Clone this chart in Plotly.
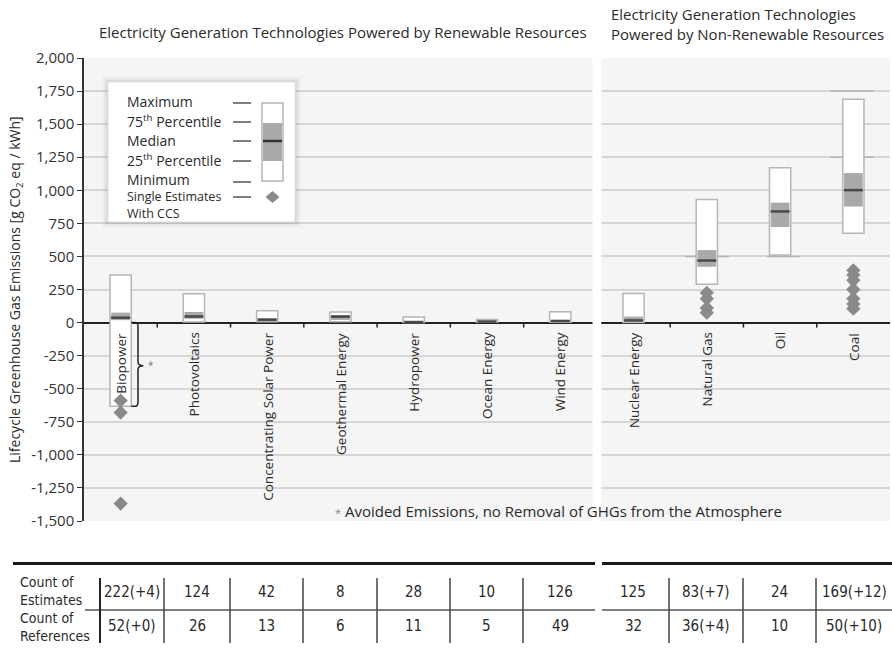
import plotly.graph_objects as go

# ---------------- data ----------------
categories = ["Biopower", "Photovoltaics", "Concentrating Solar Power", "Geothermal Energy",
              "Hydropower", "Ocean Energy", "Wind Energy", "Nuclear Energy", "Natural Gas",
              "Oil", "Coal"]
v_min = [-633, 5, 7, 6, 0, 2, 2, 1, 290, 510, 675]
v_q1 = [18, 29, 14, 20, 3, 6, 8, 8, 422, 722, 877]
v_med = [37, 46, 22, 45, 4, 8, 12, 16, 469, 840, 1001]
v_q3 = [75, 80, 32, 57, 7, 9, 20, 45, 548, 907, 1130]
v_max = [360, 217, 89, 79, 43, 23, 81, 220, 930, 1170, 1689]

ccs_category = [0, 0, 0, 8, 8, 8, 8, 10, 10, 10, 10, 10, 10, 10]
ccs_values = [-590, -680, -1368, 225, 180, 110, 75, 395, 360, 320, 250, 180, 140, 105]

count_estimates = ["222(+4)", "124", "42", "8", "28", "10", "126", "125", "83(+7)", "24", "169(+12)"]
count_references = ["52(+0)", "26", "13", "6", "11", "5", "49", "32", "36(+4)", "10", "50(+10)"]

y_ticks = list(range(-1500, 2001, 250))
y_ticktext = [f"{v:,}" for v in y_ticks]

# ---------------- layout helpers ----------------
W, H = 892, 649
ML, MR, MT, MB = 84, 2, 58, 128
PW, PH = W - ML - MR, H - MT - MB


def px(x):
    return (x - ML) / PW


def py(y):
    return (H - MB - y) / PH


FONT = "Open Sans, Noto Sans, sans-serif"
COND = "DejaVu Sans Condensed, Liberation Sans Narrow, Arial Narrow, sans-serif"
TXT = "#2a2a2a"

annotations = []


def ann(text, x, y, xref="paper", yref="paper", xanchor="center", yanchor="middle",
        size=13, family=FONT, color=TXT, **kw):
    annotations.append(dict(text=text, x=x, y=y, xref=xref, yref=yref, xanchor=xanchor,
                            yanchor=yanchor, showarrow=False,
                            font=dict(family=family, size=size, color=color), **kw))


idx = list(range(len(categories)))
fig = go.Figure()

# outer box min..max
fig.add_trace(go.Bar(
    x=idx, y=[b - a for a, b in zip(v_min, v_max)], base=v_min, width=0.29,
    marker=dict(color="white", line=dict(color="#b5b5b5", width=1.5)),
    hoverinfo="skip", showlegend=False))
# inter-quartile band
fig.add_trace(go.Bar(
    x=idx, y=[b - a for a, b in zip(v_q1, v_q3)], base=v_q1, width=0.255,
    marker=dict(color="#a9a9a9", line=dict(width=0)),
    hoverinfo="skip", showlegend=False))
# medians
mx, my = [], []
for i, m in zip(idx, v_med):
    mx += [i - 0.13, i + 0.13, None]
    my += [m, m, None]
fig.add_trace(go.Scatter(x=mx, y=my, mode="lines", line=dict(color="#484848", width=2.5),
                         hoverinfo="skip", showlegend=False))
# single estimates with CCS
fig.add_trace(go.Scatter(x=ccs_category, y=ccs_values, mode="markers",
                         marker=dict(symbol="diamond", size=11, color="#8a8a8a", line=dict(width=0)),
                         hoverinfo="skip", showlegend=False))

shapes = []

# darker rule segments seen in the reference
for c, yv, a, b in [(8, 500, -0.3, 0.3), (9, 500, -0.18, 0.27), (10, 1750, -0.32, 0.28), (10, 1250, -0.32, 0.28)]:
    shapes.append(dict(type="line", xref="x", yref="y", x0=c + a, x1=c + b, y0=yv, y1=yv,
                       line=dict(color="#b3b3b3", width=1.5), layer="between"))

# zero line ticks
for b in [0.5, 1.5, 2.5, 3.5, 4.5, 5.5, 7.5, 8.5, 9.5]:
    shapes.append(dict(type="line", xref="x", yref="y", x0=b, x1=b, y0=0, y1=-38,
                       line=dict(color="#222", width=1.5)))

# gap between panels
shapes.append(dict(type="rect", xref="x", yref="paper", x0=6.44, x1=6.56, y0=-0.002, y1=1.002,
                   fillcolor="white", line=dict(width=0), layer="above"))

# bracket for biopower avoided emissions
bx = 0.237
shapes.append(dict(type="path", xref="x", yref="y",
                   path=(f"M 0.145,0 L 0.20,0 Q {bx},0 {bx},-30 L {bx},-296 Q {bx},-326 0.31,-326 "
                         f"Q {bx},-326 {bx},-356 L {bx},-603 Q {bx},-633 0.20,-633 L 0.145,-633"),
                   line=dict(color="#222", width=1.5)))
ann("*", 0.41, -318, xref="x", yref="y", size=10, color="#777")

# category labels
for i, c in enumerate(categories):
    ann(c, i, 0, xref="x", yref="y", yanchor="top", yshift=-8, textangle=-90, size=13.5)

# footnote
ann("<span style='color:#888;font-size:11px'>*</span> Avoided Emissions, no Removal of GHGs from the Atmosphere",
    px(558), py(511), size=15)

# titles
ann("Electricity Generation Technologies Powered by Renewable Resources", px(343), py(32), size=15)
ann("Electricity Generation Technologies<br>Powered by Non-Renewable Resources", px(609), py(24),
    xanchor="left", align="left", size=15)
# y title
ann("Lifecycle Greenhouse Gas Emissions [g CO<sub>2</sub> eq / kWh]", px(15), py(290),
    textangle=-90, size=14)

# ---------------- legend box ----------------
for d, op in [(6, 0.025), (4, 0.035), (2, 0.05)]:
    shapes.append(dict(type="rect", xref="paper", yref="paper", x0=px(108 - d), x1=px(295 + d),
                       y0=py(222 + d), y1=py(82 - d), fillcolor=f"rgba(0,0,0,{op})",
                       line=dict(width=0), layer="above"))
shapes.append(dict(type="rect", xref="paper", yref="paper", x0=px(108), x1=px(295),
                   y0=py(222), y1=py(82), fillcolor="white", line=dict(color="#dedede", width=1),
                   layer="above"))
leg_items = [("Maximum", 101, 103, 14), ("75<sup>th</sup> Percentile", 121, 122, 14),
             ("Median", 140, 141, 14), ("25<sup>th</sup> Percentile", 160, 161, 14),
             ("Minimum", 179, 182, 14), ("Single Estimates", 196, 197, 12.5)]
for t, ty, ly, fs in leg_items:
    ann(t, px(125), py(ty), xanchor="left", size=fs)
    shapes.append(dict(type="line", xref="paper", yref="paper", x0=px(233), x1=px(251),
                       y0=py(ly), y1=py(ly), line=dict(color="#555", width=1.5), layer="above"))
ann("With CCS", px(125), py(213), xanchor="left", size=12.5)
shapes.append(dict(type="rect", xref="paper", yref="paper", x0=px(262), x1=px(283),
                   y0=py(181), y1=py(103), fillcolor="white", line=dict(color="#b5b5b5", width=1.5),
                   layer="above"))
shapes.append(dict(type="rect", xref="paper", yref="paper", x0=px(263), x1=px(282),
                   y0=py(161), y1=py(123), fillcolor="#a9a9a9", line=dict(width=0), layer="above"))
shapes.append(dict(type="line", xref="paper", yref="paper", x0=px(263), x1=px(282),
                   y0=py(141), y1=py(141), line=dict(color="#333", width=2.5), layer="above"))
cx, cy = 272.5, 197
shapes.append(dict(type="path", xref="paper", yref="paper",
                   path=(f"M {px(cx - 7)},{py(cy)} L {px(cx)},{py(cy - 6)} L {px(cx + 7)},{py(cy)} "
                         f"L {px(cx)},{py(cy + 6)} Z"),
                   fillcolor="#8a8a8a", line=dict(width=0), layer="above"))

# ---------------- table ----------------
for x0, x1 in [(13, 595), (602, 892)]:
    shapes.append(dict(type="line", xref="paper", yref="paper", x0=px(x0), x1=px(x1),
                       y0=py(563.5), y1=py(563.5), line=dict(color="#1a1a1a", width=3)))
for x0, x1 in [(85, 595), (602, 892)]:
    shapes.append(dict(type="line", xref="paper", yref="paper", x0=px(x0), x1=px(x1),
                       y0=py(610), y1=py(610), line=dict(color="#555", width=1.5)))
vlines = [100, 164, 230, 303, 377, 450, 523, 669, 743, 816]
for k, xv in enumerate(vlines):
    shapes.append(dict(type="line", xref="paper", yref="paper", x0=px(xv), x1=px(xv),
                       y0=py(578), y1=py(643),
                       line=dict(color="#222" if k == 0 else "#444", width=2 if k == 0 else 1.5)))
cells = [100, 164, 230, 303, 377, 450, 523, 597, 669, 743, 816, 892]
centers = [(a + b) / 2 for a, b in zip(cells[:-1], cells[1:])]
for c, e, r in zip(centers, count_estimates, count_references):
    ann(e, px(c), py(592), family=COND, size=15)
    ann(r, px(c), py(626), family=COND, size=15)
for t, yy in [("Count of", 582), ("Estimates", 600), ("Count of", 618), ("References", 636)]:
    ann(t, px(18), py(yy), xanchor="left", family=COND, size=14)

fig.update_layout(
    width=W, height=H, margin=dict(l=ML, r=MR, t=MT, b=MB),
    paper_bgcolor="white", plot_bgcolor="#f5f5f5",
    barmode="overlay", showlegend=False,
    xaxis=dict(range=[-0.5, 10.5], showticklabels=False, showgrid=False, zeroline=False,
               fixedrange=True),
    yaxis=dict(range=[-1500, 2000], tickvals=y_ticks, ticktext=y_ticktext,
               showgrid=True, gridcolor="#d6d6d6", gridwidth=1.5,
               zeroline=True, zerolinecolor="#222", zerolinewidth=1.5,
               showline=True, linecolor="#333", linewidth=1.5,
               ticks="outside", ticklen=5, tickcolor="#333",
               tickfont=dict(family=FONT, size=15, color="#333")),
    shapes=shapes, annotations=annotations,
)

fig.write_html("out.html", config={"displayModeBar": False},
               post_script="document.body.style.margin='0';document.body.style.padding='0';")
